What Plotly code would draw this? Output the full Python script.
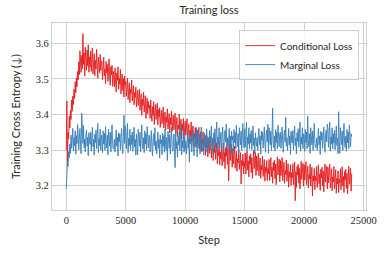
import plotly.graph_objects as go

steps = list(range(0, 24001, 50))

conditional_loss = [
    3.300, 3.438, 3.262, 3.351, 3.332, 3.395, 3.362, 3.412, 3.386, 3.441, 3.409, 3.452, 3.428, 3.471, 3.445, 3.492, 3.461, 3.503, 3.478, 3.521,
    3.497, 3.548, 3.512, 3.579, 3.535, 3.518, 3.566, 3.529, 3.627, 3.541, 3.573, 3.508, 3.589, 3.552, 3.524, 3.581, 3.537, 3.596, 3.519, 3.562,
    3.533, 3.578, 3.521, 3.559, 3.587, 3.514, 3.546, 3.571, 3.509, 3.552, 3.528, 3.583, 3.536, 3.502, 3.561, 3.542, 3.517, 3.569, 3.524, 3.551,
    3.547, 3.498, 3.532, 3.561, 3.509, 3.528, 3.486, 3.549, 3.517, 3.541, 3.493, 3.527, 3.556, 3.501, 3.482, 3.535, 3.512, 3.538, 3.479, 3.521,
    3.512, 3.478, 3.531, 3.489, 3.463, 3.517, 3.496, 3.534, 3.471, 3.502, 3.485, 3.527, 3.458, 3.493, 3.514, 3.467, 3.501, 3.449, 3.508, 3.482,
    3.493, 3.451, 3.476, 3.502, 3.442, 3.468, 3.489, 3.433, 3.472, 3.459, 3.497, 3.438, 3.465, 3.481, 3.427, 3.462, 3.448, 3.477, 3.421, 3.456,
    3.468, 3.425, 3.447, 3.471, 3.412, 3.439, 3.458, 3.398, 3.443, 3.426, 3.462, 3.407, 3.435, 3.453, 3.389, 3.428, 3.446, 3.402, 3.437, 3.418,
    3.426, 3.389, 3.441, 3.403, 3.381, 3.422, 3.397, 3.436, 3.372, 3.411, 3.428, 3.386, 3.405, 3.432, 3.371, 3.414, 3.393, 3.419, 3.364, 3.402,
    3.412, 3.374, 3.398, 3.421, 3.362, 3.389, 3.407, 3.356, 3.394, 3.378, 3.416, 3.359, 3.385, 3.403, 3.348, 3.391, 3.372, 3.409, 3.353, 3.386,
    3.398, 3.357, 3.382, 3.404, 3.346, 3.376, 3.392, 3.338, 3.371, 3.359, 3.401, 3.343, 3.368, 3.387, 3.331, 3.374, 3.355, 3.389, 3.336, 3.366,
    3.381, 3.342, 3.369, 3.388, 3.327, 3.361, 3.374, 3.319, 3.356, 3.341, 3.379, 3.325, 3.352, 3.368, 3.311, 3.347, 3.333, 3.364, 3.308, 3.342,
    3.357, 3.318, 3.342, 3.364, 3.302, 3.337, 3.351, 3.296, 3.331, 3.316, 3.352, 3.298, 3.326, 3.343, 3.285, 3.321, 3.307, 3.338, 3.281, 3.317,
    3.332, 3.291, 3.318, 3.339, 3.278, 3.312, 3.327, 3.271, 3.306, 3.293, 3.331, 3.274, 3.301, 3.321, 3.262, 3.298, 3.284, 3.317, 3.259, 3.295,
    3.275, 3.315, 3.256, 3.298, 3.320, 3.267, 3.293, 3.248, 3.307, 3.283, 3.313, 3.260, 3.302, 3.214, 3.296, 3.322, 3.271, 3.287, 3.316, 3.252,
    3.304, 3.262, 3.288, 3.311, 3.249, 3.283, 3.297, 3.241, 3.276, 3.264, 3.302, 3.246, 3.273, 3.293, 3.205, 3.271, 3.256, 3.289, 3.233, 3.268,
    3.252, 3.292, 3.233, 3.275, 3.297, 3.244, 3.270, 3.225, 3.284, 3.260, 3.290, 3.237, 3.279, 3.221, 3.273, 3.299, 3.248, 3.264, 3.293, 3.229,
    3.284, 3.242, 3.268, 3.292, 3.228, 3.263, 3.278, 3.221, 3.257, 3.244, 3.283, 3.226, 3.254, 3.274, 3.213, 3.252, 3.237, 3.271, 3.215, 3.249,
    3.234, 3.274, 3.215, 3.257, 3.279, 3.226, 3.252, 3.207, 3.266, 3.242, 3.272, 3.219, 3.261, 3.203, 3.255, 3.281, 3.230, 3.246, 3.275, 3.211,
    3.271, 3.228, 3.253, 3.279, 3.214, 3.248, 3.266, 3.207, 3.243, 3.231, 3.272, 3.212, 3.241, 3.262, 3.196, 3.239, 3.224, 3.259, 3.201, 3.237,
    3.222, 3.262, 3.203, 3.245, 3.267, 3.158, 3.240, 3.195, 3.254, 3.230, 3.260, 3.207, 3.249, 3.191, 3.243, 3.269, 3.218, 3.234, 3.263, 3.199,
    3.259, 3.216, 3.243, 3.268, 3.203, 3.237, 3.255, 3.194, 3.232, 3.219, 3.261, 3.199, 3.229, 3.252, 3.171, 3.228, 3.213, 3.249, 3.189, 3.226,
    3.214, 3.254, 3.195, 3.237, 3.259, 3.206, 3.232, 3.187, 3.246, 3.222, 3.252, 3.199, 3.241, 3.183, 3.235, 3.261, 3.210, 3.226, 3.255, 3.191,
    3.252, 3.208, 3.235, 3.261, 3.194, 3.229, 3.248, 3.186, 3.225, 3.211, 3.254, 3.191, 3.221, 3.245, 3.179, 3.221, 3.205, 3.242, 3.181, 3.219,
    3.208, 3.248, 3.189, 3.231, 3.253, 3.200, 3.226, 3.181, 3.240, 3.216, 3.246, 3.193, 3.235, 3.177, 3.229, 3.255, 3.204, 3.220, 3.249, 3.185,
    3.234,
]

marginal_loss = [
    3.192, 3.231, 3.268, 3.254, 3.296, 3.279, 3.318, 3.291, 3.342, 3.305, 3.327, 3.361, 3.298, 3.335, 3.312, 3.354, 3.289, 3.341, 3.318, 3.372,
    3.346, 3.301, 3.334, 3.361, 3.314, 3.290, 3.404, 3.352, 3.319, 3.369, 3.307, 3.331, 3.295, 3.343, 3.357, 3.311, 3.336, 3.284, 3.349, 3.324,
    3.316, 3.351, 3.297, 3.337, 3.364, 3.309, 3.330, 3.286, 3.345, 3.321, 3.356, 3.304, 3.340, 3.375, 3.293, 3.333, 3.313, 3.359, 3.300, 3.342,
    3.335, 3.293, 3.354, 3.317, 3.347, 3.300, 3.366, 3.322, 3.306, 3.342, 3.287, 3.359, 3.331, 3.311, 3.350, 3.295, 3.337, 3.371, 3.315, 3.303,
    3.307, 3.331, 3.295, 3.343, 3.357, 3.311, 3.336, 3.284, 3.349, 3.324, 3.346, 3.301, 3.334, 3.361, 3.314, 3.290, 3.339, 3.398, 3.319, 3.369,
    3.356, 3.304, 3.340, 3.375, 3.293, 3.333, 3.313, 3.359, 3.300, 3.342, 3.316, 3.351, 3.297, 3.337, 3.364, 3.309, 3.330, 3.286, 3.345, 3.321,
    3.287, 3.359, 3.331, 3.311, 3.350, 3.295, 3.337, 3.371, 3.315, 3.303, 3.335, 3.293, 3.354, 3.317, 3.347, 3.300, 3.366, 3.322, 3.306, 3.342,
    3.340, 3.295, 3.328, 3.355, 3.308, 3.284, 3.333, 3.346, 3.313, 3.363, 3.301, 3.325, 3.289, 3.337, 3.351, 3.305, 3.330, 3.278, 3.343, 3.318,
    3.329, 3.287, 3.348, 3.311, 3.341, 3.294, 3.360, 3.316, 3.300, 3.336, 3.271, 3.353, 3.325, 3.305, 3.344, 3.289, 3.331, 3.365, 3.309, 3.297,
    3.310, 3.345, 3.291, 3.251, 3.358, 3.303, 3.324, 3.280, 3.339, 3.315, 3.350, 3.298, 3.334, 3.369, 3.287, 3.327, 3.307, 3.353, 3.294, 3.336,
    3.301, 3.325, 3.289, 3.337, 3.351, 3.305, 3.330, 3.266, 3.343, 3.318, 3.340, 3.295, 3.328, 3.355, 3.308, 3.284, 3.333, 3.346, 3.313, 3.363,
    3.281, 3.353, 3.325, 3.305, 3.344, 3.289, 3.331, 3.365, 3.309, 3.297, 3.329, 3.287, 3.348, 3.311, 3.341, 3.294, 3.360, 3.316, 3.300, 3.336,
    3.320, 3.355, 3.301, 3.341, 3.368, 3.313, 3.334, 3.290, 3.349, 3.325, 3.360, 3.308, 3.344, 3.379, 3.297, 3.337, 3.317, 3.363, 3.304, 3.346,
    3.350, 3.305, 3.338, 3.365, 3.318, 3.294, 3.343, 3.356, 3.323, 3.373, 3.311, 3.335, 3.299, 3.347, 3.361, 3.315, 3.340, 3.288, 3.353, 3.328,
    3.339, 3.297, 3.358, 3.321, 3.351, 3.304, 3.370, 3.326, 3.310, 3.346, 3.291, 3.363, 3.335, 3.315, 3.354, 3.299, 3.341, 3.375, 3.319, 3.307,
    3.360, 3.308, 3.344, 3.379, 3.297, 3.337, 3.317, 3.363, 3.304, 3.346, 3.320, 3.355, 3.301, 3.341, 3.368, 3.313, 3.334, 3.290, 3.349, 3.325,
    3.311, 3.335, 3.299, 3.347, 3.361, 3.315, 3.340, 3.288, 3.353, 3.328, 3.350, 3.305, 3.338, 3.365, 3.318, 3.294, 3.343, 3.356, 3.323, 3.373,
    3.291, 3.363, 3.335, 3.315, 3.354, 3.299, 3.341, 3.418, 3.319, 3.307, 3.339, 3.297, 3.358, 3.321, 3.351, 3.304, 3.370, 3.326, 3.310, 3.346,
    3.350, 3.305, 3.338, 3.365, 3.318, 3.294, 3.343, 3.356, 3.323, 3.392, 3.311, 3.335, 3.299, 3.347, 3.361, 3.315, 3.340, 3.288, 3.353, 3.328,
    3.320, 3.355, 3.301, 3.341, 3.368, 3.313, 3.334, 3.290, 3.349, 3.325, 3.360, 3.308, 3.344, 3.379, 3.297, 3.337, 3.317, 3.363, 3.304, 3.346,
    3.339, 3.297, 3.358, 3.321, 3.351, 3.304, 3.395, 3.326, 3.310, 3.346, 3.291, 3.363, 3.335, 3.315, 3.354, 3.299, 3.341, 3.375, 3.319, 3.307,
    3.311, 3.335, 3.299, 3.347, 3.361, 3.315, 3.340, 3.288, 3.353, 3.328, 3.350, 3.305, 3.338, 3.365, 3.318, 3.294, 3.343, 3.356, 3.323, 3.373,
    3.360, 3.308, 3.344, 3.379, 3.297, 3.337, 3.317, 3.363, 3.304, 3.346, 3.320, 3.355, 3.301, 3.341, 3.368, 3.313, 3.334, 3.290, 3.408, 3.325,
    3.291, 3.363, 3.335, 3.315, 3.354, 3.299, 3.341, 3.375, 3.319, 3.307, 3.339, 3.297, 3.358, 3.321, 3.351, 3.304, 3.370, 3.326, 3.310, 3.346,
    3.338,
]

x_ticks = [0, 5000, 10000, 15000, 20000, 25000]
y_ticks = [3.2, 3.3, 3.4, 3.5, 3.6]

serif = "Liberation Serif, Times New Roman, serif"
sans = "Lato, sans-serif"
grid = "#d0d0d0"
txt = "#262626"

fig = go.Figure()
fig.add_trace(go.Scatter(x=steps, y=conditional_loss, mode="lines", name="Conditional Loss",
                         line=dict(color="#e41a1c", width=0.9)))
fig.add_trace(go.Scatter(x=steps, y=marginal_loss, mode="lines", name="Marginal Loss",
                         line=dict(color="#377eb8", width=0.9)))

fig.update_layout(
    width=387, height=257,
    margin=dict(l=52, r=21, t=23, b=47, autoexpand=False),
    paper_bgcolor="white", plot_bgcolor="white",
    title=dict(text="Training loss", x=0.5, xref="paper", xanchor="center",
               y=0.96, yref="container", yanchor="middle",
               font=dict(family=sans, size=11, color=txt)),
    showlegend=True,
    legend=dict(x=0.978, y=0.962, xanchor="right", yanchor="top",
                bgcolor="rgba(255,255,255,0.85)", bordercolor="#cccccc", borderwidth=1,
                font=dict(family=sans, size=10, color=txt),
                tracegroupgap=0, itemwidth=30),
)
fig.update_xaxes(range=[-1200, 25200], tickvals=x_ticks, ticktext=[str(v) for v in x_ticks],
                 showgrid=True, gridcolor=grid, gridwidth=1, zeroline=False, automargin=False,
                 showline=True, linecolor=grid, linewidth=1.2, mirror=True,
                 ticks="", tickfont=dict(family=serif, size=10.5, color=txt),
                 title=dict(text="Step", font=dict(family=sans, size=11, color=txt), standoff=11))
fig.update_yaxes(range=[3.132, 3.657], tickvals=y_ticks, ticktext=[f"{v:.1f}" for v in y_ticks],
                 showgrid=True, gridcolor=grid, gridwidth=1, zeroline=False, automargin=False,
                 showline=True, linecolor=grid, linewidth=1.2, mirror=True,
                 ticks="", tickfont=dict(family=serif, size=10.5, color=txt),
                 title=dict(text="Training Cross Entropy (↓)", font=dict(family=sans, size=11, color=txt), standoff=12))

fig.write_html("out.html", config={"displayModeBar": False},
               post_script="document.body.style.margin='0';")
